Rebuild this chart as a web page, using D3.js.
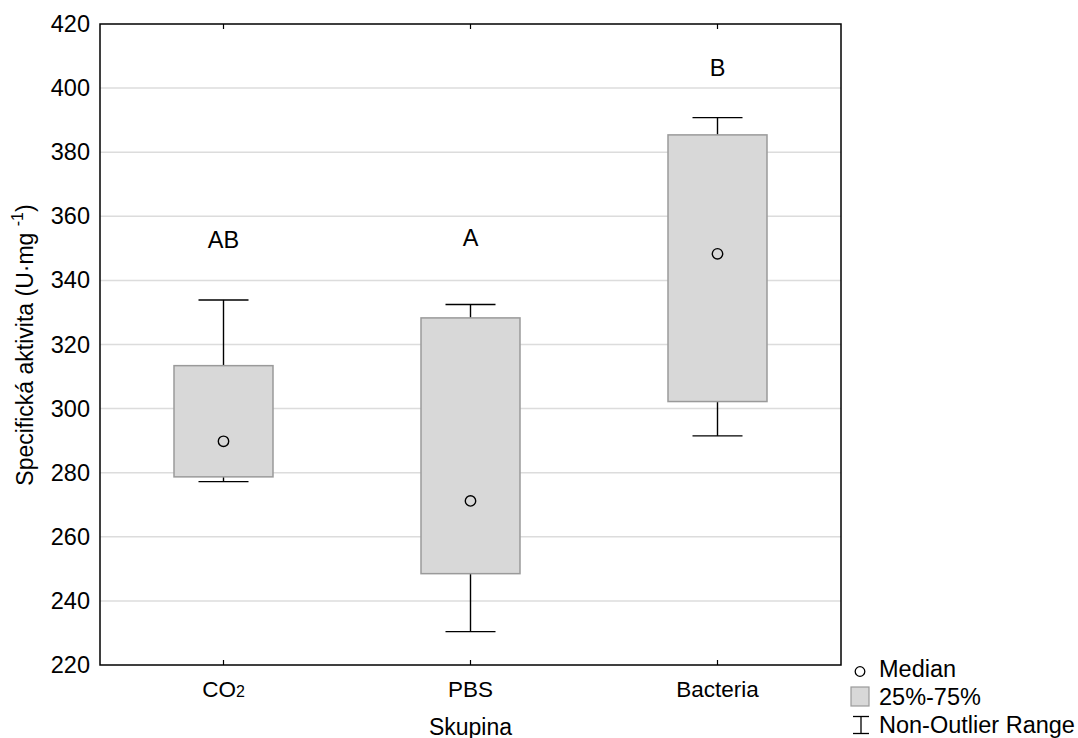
<!DOCTYPE html>
<html><head><meta charset="utf-8">
<script src="https://cdn.jsdelivr.net/npm/d3@7"></script>
<style>body{margin:0;background:#fff}svg{display:block;font-family:"Liberation Sans",Arial,sans-serif}</style>
</head><body>
<svg id="c" width="1078" height="738"></svg>
<script>
const categories = ["CO2", "PBS", "Bacteria"];
const q1 = [278.7, 248.5, 302.2];
const q3 = [313.4, 328.3, 385.4];
const whiskerLow = [277.2, 230.4, 291.5];
const whiskerHigh = [333.9, 332.5, 390.8];
const medians = [289.8, 271.2, 348.3];
const letters = ["AB", "A", "B"];
const letterY = [350.1, 350.6, 403.8];
const yTicks = [220, 240, 260, 280, 300, 320, 340, 360, 380, 400, 420];

const svg = d3.select("#c");
const L = 100, R = 841, T = 24, B = 665;
const x = d3.scaleBand().domain(categories).range([L, R]).padding(0);
const y = d3.scaleLinear().domain([220, 420]).range([B, T]);
const cx = c => x(c) + x.bandwidth() / 2;

// gridlines
svg.append("g").selectAll("line").data(yTicks.slice(1, -1)).join("line")
  .attr("x1", L).attr("x2", R).attr("y1", d => y(d)).attr("y2", d => y(d))
  .attr("stroke", "#dcdcdc").attr("stroke-width", 1.5);

// y axis labels
const yAxis = d3.axisLeft(y).tickValues(yTicks).tickSize(0).tickPadding(10);
const ga = svg.append("g").attr("transform", `translate(${L},0)`).call(yAxis);
ga.select(".domain").remove();
ga.selectAll("text").attr("font-size", 23.5).attr("fill", "#000").attr("font-family", "Liberation Sans, Arial, sans-serif");

// x axis labels
categories.forEach(c => {
  const t = svg.append("text").attr("x", cx(c)).attr("y", 697).attr("text-anchor", "middle")
    .attr("font-size", 22.5).attr("fill", "#000");
  if (c === "CO2") { t.append("tspan").text("CO"); t.append("tspan").attr("font-size", 16).text("2"); }
  else t.text(c);
});

// inner tick marks at top and bottom
categories.forEach(c => {
  svg.append("line").attr("x1", cx(c)).attr("x2", cx(c)).attr("y1", B).attr("y2", B - 5).attr("stroke", "#000").attr("stroke-width", 1.2);
  svg.append("line").attr("x1", cx(c)).attr("x2", cx(c)).attr("y1", T).attr("y2", T + 5).attr("stroke", "#000").attr("stroke-width", 1.2);
});

const boxW = 99, capW = 50;
const g = svg.append("g");
categories.forEach((c, i) => {
  const xc = cx(c);
  g.append("line").attr("x1", xc).attr("x2", xc).attr("y1", y(whiskerHigh[i])).attr("y2", y(q3[i])).attr("stroke", "#000").attr("stroke-width", 1.4);
  g.append("line").attr("x1", xc).attr("x2", xc).attr("y1", y(q1[i])).attr("y2", y(whiskerLow[i])).attr("stroke", "#000").attr("stroke-width", 1.4);
  g.append("line").attr("x1", xc - capW / 2).attr("x2", xc + capW / 2).attr("y1", y(whiskerHigh[i])).attr("y2", y(whiskerHigh[i])).attr("stroke", "#000").attr("stroke-width", 1.4);
  g.append("line").attr("x1", xc - capW / 2).attr("x2", xc + capW / 2).attr("y1", y(whiskerLow[i])).attr("y2", y(whiskerLow[i])).attr("stroke", "#000").attr("stroke-width", 1.4);
  g.append("rect").attr("x", xc - boxW / 2).attr("width", boxW).attr("y", y(q3[i])).attr("height", y(q1[i]) - y(q3[i]))
    .attr("fill", "#d8d8d8").attr("stroke", "#9a9a9a").attr("stroke-width", 1.5);
  g.append("circle").attr("cx", xc).attr("cy", y(medians[i])).attr("r", 5.2).attr("fill", "none").attr("stroke", "#000").attr("stroke-width", 1.4);
  g.append("text").attr("x", xc).attr("y", y(letterY[i])).attr("text-anchor", "middle").attr("font-size", 23.5).attr("fill", "#000").text(letters[i]);
});

// frame
svg.append("rect").attr("x", L).attr("y", T).attr("width", R - L).attr("height", B - T).attr("fill", "none").attr("stroke", "#000").attr("stroke-width", 1.5);

// axis titles
const yt = svg.append("text").attr("transform", `translate(33,345) rotate(-90)`).attr("text-anchor", "middle").attr("font-size", 23).attr("fill", "#000");
yt.append("tspan").text("Specifická aktivita (U·mg ");
yt.append("tspan").attr("font-size", 16).attr("dy", -10).text("-1");
yt.append("tspan").attr("dy", 10).text(")");
svg.append("text").attr("x", cx("PBS")).attr("y", 735).attr("text-anchor", "middle").attr("font-size", 23).attr("fill", "#000").text("Skupina");

// legend
const lg = svg.append("g").attr("font-size", 23.5);
lg.append("circle").attr("cx", 860).attr("cy", 671.5).attr("r", 4.8).attr("fill", "none").attr("stroke", "#000").attr("stroke-width", 1.3);
lg.append("text").attr("x", 879).attr("y", 677).text("Median");
lg.append("rect").attr("x", 851).attr("y", 687).attr("width", 18).attr("height", 19).attr("fill", "#d8d8d8").attr("stroke", "#9a9a9a").attr("stroke-width", 1.2);
lg.append("text").attr("x", 879).attr("y", 705).text("25%-75%");
lg.append("line").attr("x1", 853).attr("x2", 869).attr("y1", 716.5).attr("y2", 716.5).attr("stroke", "#000").attr("stroke-width", 1.3);
lg.append("line").attr("x1", 853).attr("x2", 869).attr("y1", 733.5).attr("y2", 733.5).attr("stroke", "#000").attr("stroke-width", 1.3);
lg.append("line").attr("x1", 861).attr("x2", 861).attr("y1", 716.5).attr("y2", 733.5).attr("stroke", "#000").attr("stroke-width", 1.3);
lg.append("text").attr("x", 879).attr("y", 733).text("Non-Outlier Range");
</script>
</body></html>
